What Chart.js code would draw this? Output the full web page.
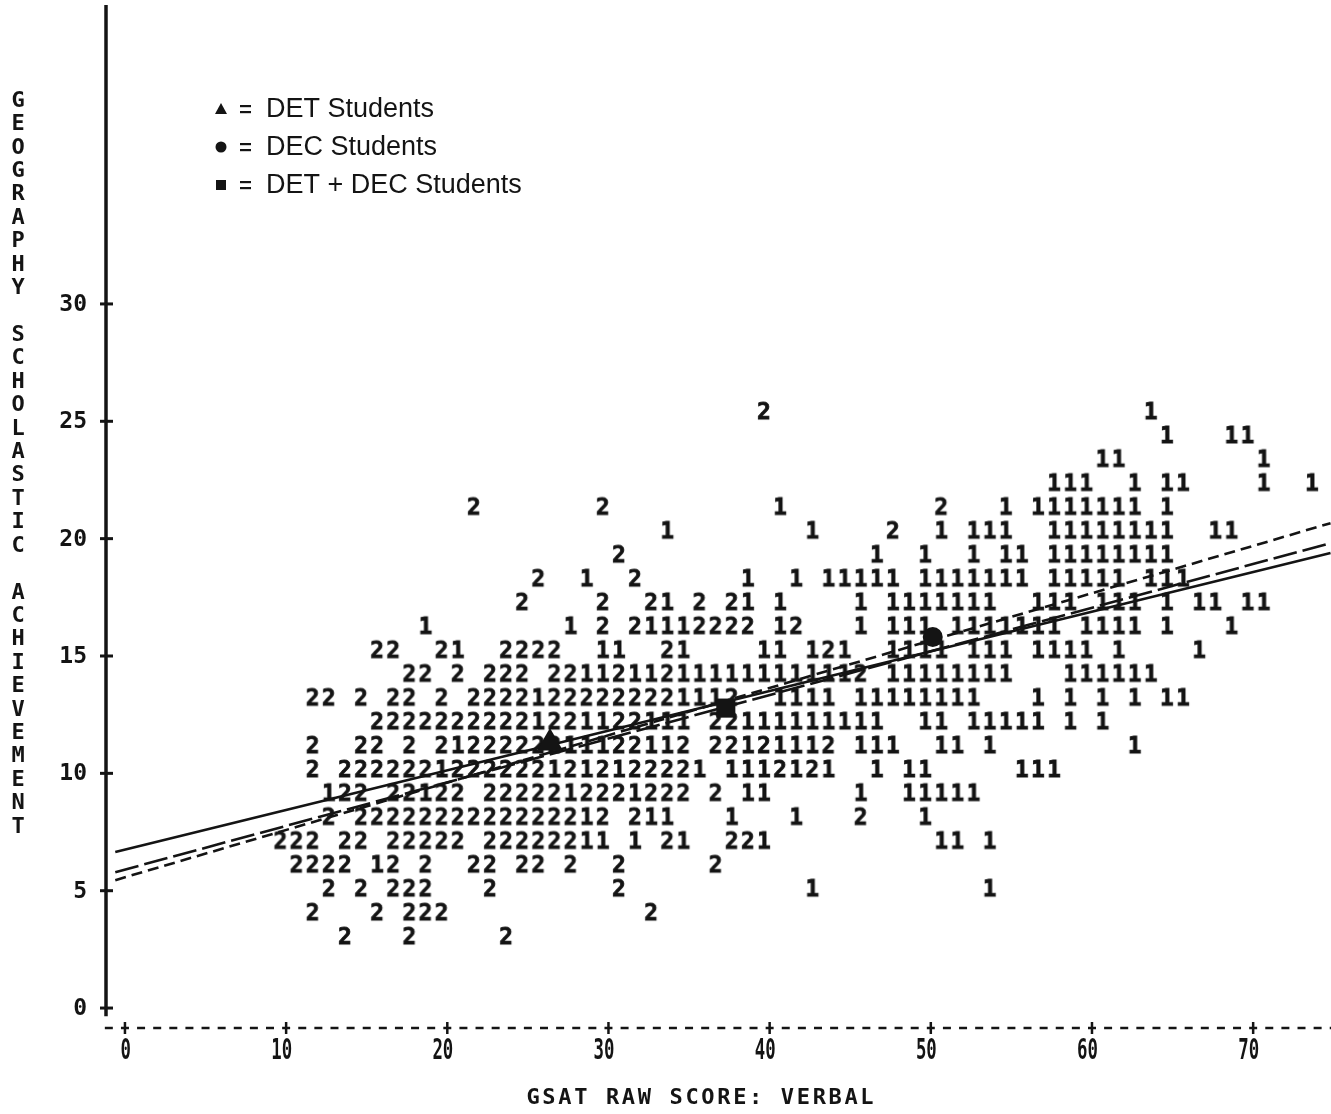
<!DOCTYPE html>
<html>
<head>
<meta charset="utf-8">
<script src="https://cdn.jsdelivr.net/npm/chart.js@4.4.0/dist/chart.umd.min.js"></script>
<style>
  html, body { margin: 0; padding: 0; background: #fff; overflow: hidden; }
  #plot { display: block; }
</style>
</head>
<body>
<canvas id="plot" width="1331" height="1114"></canvas>
<script>
// y value of each printed line, top to bottom
var rowValues = [25.48, 24.46, 23.45, 22.43, 21.41, 20.40, 19.38, 18.36, 17.35, 16.33, 15.31, 14.30,
                 13.28, 12.27, 11.25, 10.23, 9.22, 8.20, 7.18, 6.17, 5.15, 4.13, 3.11];

// runs of plot characters on each line: [x column, characters]  (1 = DEC, 2 = DET)
var rowMarks = [
  [[39, '2'], [63, '1']],
  [[64, '1'], [68, '11']],
  [[60, '11'], [70, '1']],
  [[57, '111'], [62, '1'], [64, '11'], [70, '1'], [73, '1']],
  [[21, '2'], [29, '2'], [40, '1'], [50, '2'], [54, '1'], [56, '1111111'], [64, '1']],
  [[33, '1'], [42, '1'], [47, '2'], [50, '1'], [52, '111'], [57, '11111111'], [67, '11']],
  [[30, '2'], [46, '1'], [49, '1'], [52, '1'], [54, '11'], [57, '11111111']],
  [[25, '2'], [28, '1'], [31, '2'], [38, '1'], [41, '1'], [43, '11111'], [49, '1111111'], [57, '11111'], [63, '111']],
  [[24, '2'], [29, '2'], [32, '21'], [35, '2'], [37, '21'], [40, '1'], [45, '1'], [47, '1111111'], [56, '111'], [60, '111'], [64, '1'], [66, '11'], [69, '11']],
  [[18, '1'], [27, '1'], [29, '2'], [31, '21112222'], [40, '12'], [45, '1'], [47, '111'], [51, '1111111'], [59, '1111'], [64, '1'], [68, '1']],
  [[15, '22'], [19, '21'], [23, '2222'], [29, '11'], [33, '21'], [39, '11'], [42, '121'], [47, '1111'], [52, '111'], [56, '1111'], [61, '1'], [66, '1']],
  [[17, '22'], [20, '2'], [22, '222'], [26, '22112112111111111112'], [47, '11111111'], [58, '111111']],
  [[11, '22'], [14, '2'], [16, '22'], [19, '2'], [21, '22221222222221112'], [40, '1111'], [45, '11111111'], [56, '1'], [58, '1'], [60, '1'], [62, '1'], [64, '11']],
  [[15, '22222222221221122111'], [36, '22111111111'], [49, '11'], [52, '11111'], [58, '1'], [60, '1']],
  [[11, '2'], [14, '22'], [17, '2'], [19, '2122222211122112'], [36, '22121112'], [45, '111'], [50, '11'], [53, '1'], [62, '1']],
  [[11, '2'], [13, '22222212222221212122221'], [37, '1112121'], [46, '1'], [48, '11'], [55, '111']],
  [[12, '122'], [16, '22122'], [22, '2222212221222'], [36, '2'], [38, '11'], [45, '1'], [48, '11111']],
  [[12, '2'], [14, '2222222222222212'], [31, '211'], [37, '1'], [41, '1'], [45, '2'], [49, '1']],
  [[9, '222'], [13, '22'], [16, '22222'], [22, '22222211'], [31, '1'], [33, '21'], [37, '221'], [50, '11'], [53, '1']],
  [[10, '2222'], [15, '12'], [18, '2'], [21, '22'], [24, '22'], [27, '2'], [30, '2'], [36, '2']],
  [[12, '2'], [14, '2'], [16, '222'], [22, '2'], [30, '2'], [42, '1'], [53, '1']],
  [[11, '2'], [15, '2'], [17, '222'], [32, '2']],
  [[13, '2'], [17, '2'], [23, '2']]
];

// printer cells sit a little right of the axis tick for the same column
var cellShift = 0.65;

// group means
var meanDET = [{x: 26.37, y: 11.29}];
var meanDEC = [{x: 50.12, y: 15.81}];
var meanAll = [{x: 37.28, y: 12.78}];

// fitted lines, read at both ends
var lineSolid = [{x: -0.6, y: 6.65}, {x: 74.8, y: 19.39}];
var lineLongDash = [{x: -0.6, y: 5.79}, {x: 74.8, y: 19.81}];
var lineShortDash = [{x: -0.6, y: 5.45}, {x: 74.8, y: 20.66}];

var xTicks = [0, 10, 20, 30, 40, 50, 60, 70];
var yTicks = [0, 5, 10, 15, 20, 25, 30];
var xTitle = 'GSAT RAW SCORE: VERBAL';
var yTitle = 'GEOGRAPHY SCHOLASTIC ACHIEVEMENT';
var legendRows = ['DET Students', 'DEC Students', 'DET + DEC Students'];

var INK = '#141414';
var MONO = '"DejaVu Sans Mono", "Liberation Mono", monospace';

function glyph(ch) {
  var c = document.createElement('canvas');
  c.width = 18; c.height = 26;
  var g = c.getContext('2d');
  g.font = 'bold 23px ' + MONO;
  g.fillStyle = INK;
  g.strokeStyle = INK;
  g.lineWidth = 0.8;
  g.textAlign = 'center';
  g.textBaseline = 'alphabetic';
  g.fillText(ch, 9, 21.5);
  g.strokeText(ch, 9, 21.5);
  return c;
}

var ones = [], twos = [];
rowMarks.forEach(function (runs, r) {
  runs.forEach(function (run) {
    for (var i = 0; i < run[1].length; i++) {
      var pt = {x: run[0] + i + cellShift, y: rowValues[r]};
      if (run[1][i] === '1') ones.push(pt); else twos.push(pt);
    }
  });
});

var printerAxes = {
  id: 'printerAxes',
  afterDraw: function (chart) {
    var ctx = chart.ctx, xs = chart.scales.x, ys = chart.scales.y, area = chart.chartArea;
    ctx.save();
    ctx.fillStyle = INK;
    ctx.strokeStyle = INK;

    // vertical axis with + ticks
    var ax = area.left + 2;
    ctx.lineWidth = 3.5;
    ctx.beginPath();
    ctx.moveTo(ax, 5);
    ctx.lineTo(ax, ys.getPixelForValue(-0.35));
    ctx.stroke();
    ctx.lineWidth = 3;
    ctx.font = 'bold 23px ' + MONO;
    ctx.textAlign = 'right';
    ctx.textBaseline = 'middle';
    yTicks.forEach(function (v) {
      var py = ys.getPixelForValue(v);
      ctx.beginPath();
      ctx.moveTo(ax - 6, py);
      ctx.lineTo(ax + 7, py);
      ctx.stroke();
      ctx.fillText(String(v), ax - 19, py + 1);
    });

    // horizontal axis made of - and +
    var by = area.bottom;
    ctx.lineWidth = 2.5;
    for (var k = -1; k <= 75; k++) {
      var px = xs.getPixelForValue(k);
      ctx.beginPath();
      ctx.moveTo(px - 4, by);
      ctx.lineTo(px + 4, by);
      ctx.stroke();
    }
    ctx.save();
    ctx.font = 'bold 28px ' + MONO;
    ctx.textAlign = 'right';
    ctx.textBaseline = 'middle';
    xTicks.forEach(function (v) {
      var px = xs.getPixelForValue(v);
      ctx.beginPath();
      ctx.moveTo(px, by - 6);
      ctx.lineTo(px, by + 6);
      ctx.stroke();
      ctx.save();
      ctx.translate(px + 6, by + 24);
      ctx.scale(0.62, 1);
      ctx.fillText(String(v), 0, 0);
      ctx.restore();
    });
    ctx.restore();

    // axis titles
    ctx.font = 'bold 22px ' + MONO;
    ctx.textAlign = 'center';
    ctx.textBaseline = 'middle';
    var cx = 700 - (xTitle.length - 1) * 15.9 / 2;
    for (var i = 0; i < xTitle.length; i++) {
      ctx.fillText(xTitle[i], cx + i * 15.9, 1098);
    }
    for (var j = 0; j < yTitle.length; j++) {
      ctx.fillText(yTitle[j], 18, 101 + j * 23.42);
    }

    // key
    var ky = [109, 147, 185];
    ctx.font = '27px "Liberation Sans", Arial, sans-serif';
    ctx.textAlign = 'left';
    legendRows.forEach(function (t, n) {
      var y = ky[n];
      ctx.beginPath();
      if (n === 0) {
        ctx.moveTo(221, y - 6); ctx.lineTo(227, y + 5); ctx.lineTo(215, y + 5); ctx.closePath();
      } else if (n === 1) {
        ctx.arc(221, y, 5.5, 0, Math.PI * 2);
      } else {
        ctx.rect(216, y - 5, 10, 10);
      }
      ctx.fill();
      ctx.fillRect(240, y - 4, 11, 2.2);
      ctx.fillRect(240, y + 2, 11, 2.2);
      ctx.fillText(t, 266, y + 1);
    });
    ctx.restore();
  }
};

new Chart(document.getElementById('plot'), {
  type: 'scatter',
  data: {
    datasets: [
      {label: 'DET mean', data: meanDET, pointStyle: 'triangle', pointRadius: 15, backgroundColor: INK, borderColor: INK, borderWidth: 0},
      {label: 'DEC mean', data: meanDEC, pointStyle: 'circle', pointRadius: 10, backgroundColor: INK, borderColor: INK, borderWidth: 0},
      {label: 'DET + DEC mean', data: meanAll, pointStyle: 'rect', pointRadius: 13.5, backgroundColor: INK, borderColor: INK, borderWidth: 0},
      {type: 'line', label: 'fit solid', data: lineSolid, borderColor: INK, borderWidth: 2.6, pointRadius: 0, fill: false},
      {type: 'line', label: 'fit long dash', data: lineLongDash, borderColor: INK, borderWidth: 2.6, borderDash: [24, 6], pointRadius: 0, fill: false},
      {type: 'line', label: 'fit short dash', data: lineShortDash, borderColor: INK, borderWidth: 2.6, borderDash: [11, 6], pointRadius: 0, fill: false},
      {label: '1', data: ones, pointStyle: glyph('1'), pointRadius: 5},
      {label: '2', data: twos, pointStyle: glyph('2'), pointRadius: 5}
    ]
  },
  options: {
    responsive: false,
    animation: false,
    events: [],
    layout: {autoPadding: false, padding: {left: 104, right: 0, top: 0, bottom: 86}},
    scales: {
      x: {type: 'linear', min: -1.3, max: 74.83, display: false},
      y: {type: 'linear', min: -0.85, max: 42.95, display: false}
    },
    plugins: {legend: {display: false}, tooltip: {enabled: false}}
  },
  plugins: [printerAxes]
});
</script>
</body>
</html>
